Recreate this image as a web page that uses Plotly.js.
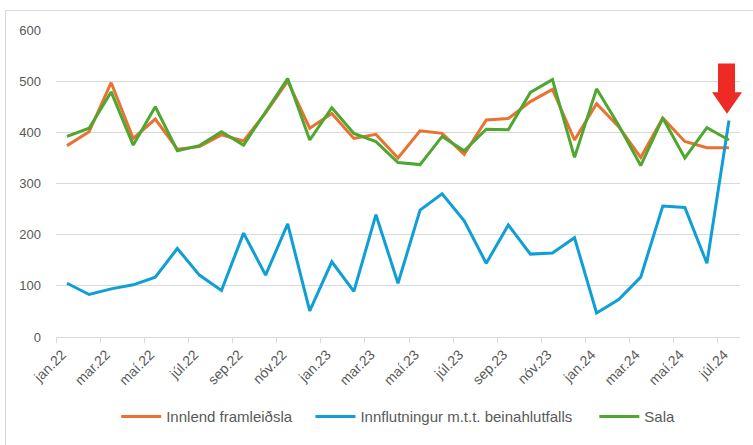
<!DOCTYPE html>
<html>
<head>
<meta charset="utf-8">
<script src="https://cdn.plot.ly/plotly-3.0.1.min.js"></script>
<style>
  html, body { margin: 0; padding: 0; background: #fff; }
  #wrap { position: relative; width: 753px; height: 445px; }
  #chart { width: 753px; height: 445px; }
  #frame { position: absolute; left: 5px; top: 10px; width: 760px; height: 450px;
           border-top: 1px solid #d9d9d9; border-left: 1px solid #d9d9d9; pointer-events: none; }
</style>
</head>
<body>
<div id="wrap"><div id="chart"></div><div id="frame"></div></div>
<script>
const months = [
  "jan.22","feb.22","mar.22","apr.22","maí.22","jún.22","júl.22","ágú.22","sep.22","okt.22","nóv.22","des.22",
  "jan.23","feb.23","mar.23","apr.23","maí.23","jún.23","júl.23","ágú.23","sep.23","okt.23","nóv.23","des.23",
  "jan.24","feb.24","mar.24","apr.24","maí.24","jún.24","júl.24"
];
const innlend = [374,401,497,388,426,367,372,395,383,438,500,408,437,388,396,350,403,398,357,424,427,460,484,385,456,411,351,428,382,370,370];
const innflutningur = [105,83,94,102,117,173,121,91,203,121,221,51,147,89,239,105,248,280,227,144,219,162,164,194,47,73,117,256,253,144,423];
const sala = [392,408,479,375,450,364,374,401,375,440,505,385,448,398,382,341,337,392,364,406,405,478,503,351,485,414,335,428,350,409,385];

const seriesNames = ["Innlend framleiðsla", "Innflutningur m.t.t. beinahlutfalls", "Sala"];
const seriesColors = ["#E97132", "#0F9ED5", "#4EA72E"];
const seriesValues = [innlend, innflutningur, sala];
const legendIds = ["legend", "legend2", "legend3"];

const traces = seriesValues.map((vals, k) => ({
  type: "scatter", mode: "lines", x: months, y: vals, name: seriesNames[k],
  legend: legendIds[k],
  line: { color: seriesColors[k], width: 3 }
}));

const legFont = { family: "'Liberation Sans', Arial, sans-serif", size: 15, color: "#595959" };
const legendPos = [0.088, 0.372, 0.787];
function legendCfg(x) {
  return { orientation: "h", x: x, xanchor: "left", y: -0.26, yanchor: "middle",
           font: legFont, itemwidth: 40, bgcolor: "rgba(0,0,0,0)" };
}

const layout = {
  width: 753, height: 445,
  margin: { l: 56, r: 13, t: 30, b: 104 },
  paper_bgcolor: "#ffffff", plot_bgcolor: "#ffffff",
  showlegend: true,
  legend: legendCfg(legendPos[0]),
  legend2: legendCfg(legendPos[1]),
  legend3: legendCfg(legendPos[2]),
  xaxis: {
    type: "category", categoryorder: "array", categoryarray: months,
    range: [-0.5, months.length - 0.5],
    dtick: 2, tickson: "boundaries",
    ticks: "outside", ticklen: 5, tickcolor: "#d9d9d9",
    tickangle: -45, showgrid: false,
    ticklabelshift: -5, ticklabelstandoff: 3,
    showline: true, linecolor: "#d9d9d9", linewidth: 1,
    tickfont: { family: "'Liberation Sans', Arial, sans-serif", size: 14, color: "#595959" },
    fixedrange: true
  },
  yaxis: {
    range: [0, 600], dtick: 100, tick0: 0,
    showgrid: true, gridcolor: "#d9d9d9", gridwidth: 1,
    zeroline: false, showline: false, ticks: "",
    ticklabelstandoff: 14,
    tickfont: { family: "'Liberation Sans', Arial, sans-serif", size: 13, color: "#595959" },
    fixedrange: true
  },
  shapes: [{
    type: "path", xref: "paper", yref: "paper",
    path: "M 0.9678 0.8905 L 0.9927 0.8905 L 0.9927 0.7974 L 1.0029 0.7974 L 0.9810 0.7268 L 0.9591 0.7974 L 0.9678 0.7974 Z",
    fillcolor: "#EE2A24", line: { width: 0 }
  }]
};

Plotly.newPlot("chart", traces, layout, { displayModeBar: false, staticPlot: true });
</script>
</body>
</html>
